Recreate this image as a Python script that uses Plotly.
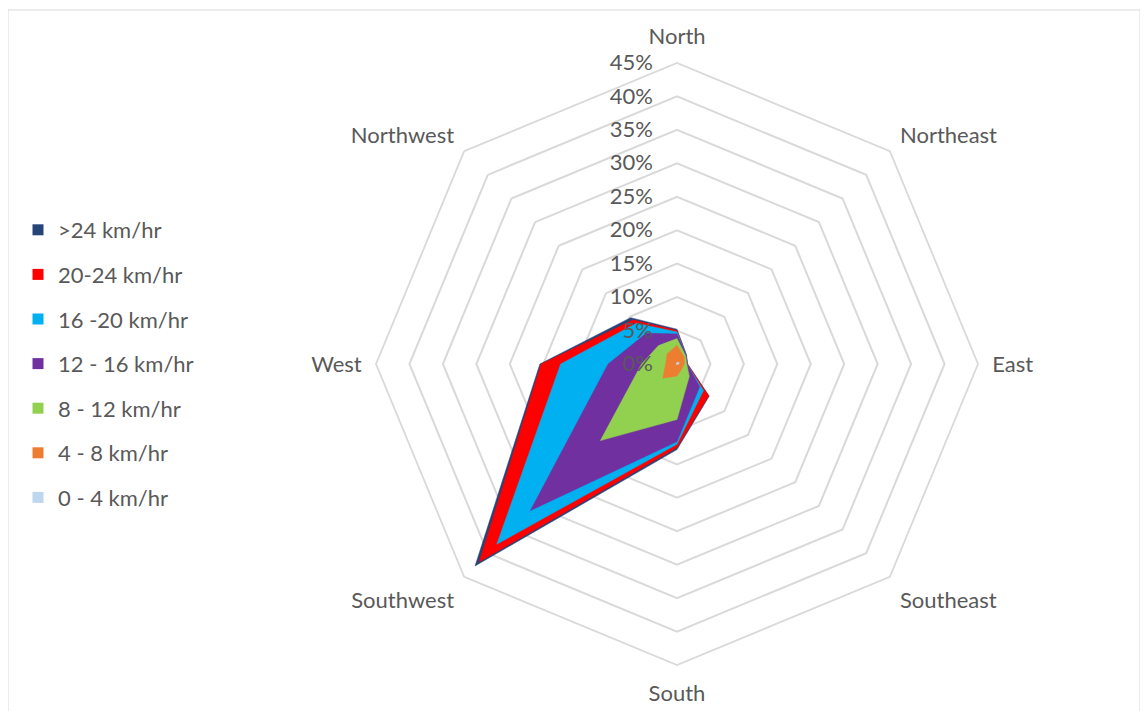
import plotly.graph_objects as go

directions = ["North", "Northeast", "East", "Southeast", "South", "Southwest", "West", "Northwest"]

series_names = [">24 km/hr", "20-24 km/hr", "16 -20 km/hr", "12 - 16 km/hr",
                "8 - 12 km/hr", "4 - 8 km/hr", "0 - 4 km/hr"]

gt24 = [5.2, 2.0, 1.6, 6.8, 12.8, 42.7, 20.5, 9.8]
s20_24 = [5.0, 1.9, 1.55, 6.7, 12.5, 41.8, 20.3, 9.3]
s16_20 = [4.8, 1.9, 1.5, 5.6, 12.0, 38.1, 17.4, 8.6]
s12_16 = [4.5, 1.9, 1.5, 4.8, 11.6, 31.0, 10.3, 6.5]
s8_12 = [3.8, 1.8, 1.45, 2.6, 8.3, 16.2, 5.3, 3.9]
s4_8 = [2.8, 1.5, 1.1, 1.0, 1.8, 3.0, 1.7, 2.1]
s0_4 = [0.2, 0.4, 0.3, 0.1, 0.1, 0.1, 0.1, 0.2]

series_values = [gt24, s20_24, s16_20, s12_16, s8_12, s4_8, s0_4]
colors = ["#264478", "#FF0000", "#00B0F0", "#7030A0", "#92D050", "#ED7D31", "#BDD7EE"]

radial_ticks = [0, 5, 10, 15, 20, 25, 30, 35, 40, 45]
radial_labels = [f"{t}%" for t in radial_ticks]

FONT = "Lato"
TXT = "#595959"
GRID = "#D9D9D9"

# page has an 8px body margin; figure coords = page coords - 8
OFF = 8
W, H = 1148 - OFF, 711 - OFF
CX, CY, R = 677 - OFF, 364 - OFF, 301

fig = go.Figure()

for name, vals, col in zip(series_names, series_values, colors):
    fig.add_trace(go.Scatterpolar(
        r=vals + [vals[0]],
        theta=directions + [directions[0]],
        mode="lines",
        fill="toself",
        fillcolor=col,
        line=dict(color=col, width=0.5),
        name=name,
        showlegend=False,
        hoverinfo="name+r+theta",
    ))

# legend entries (square markers)
for name, col in zip(series_names, colors):
    fig.add_trace(go.Scatterpolar(
        r=[None], theta=[directions[0]],
        mode="markers",
        marker=dict(symbol="square", size=11, color=col),
        name=name,
        legendgroup=name,
        showlegend=True,
    ))

fig.update_layout(
    width=W, height=H,
    paper_bgcolor="white",
    margin=dict(l=0, r=0, t=0, b=0),
    font=dict(family=FONT, size=22, color=TXT),
    polar=dict(
        domain=dict(x=[(CX - R) / W, (CX + R) / W],
                    y=[(H - CY - R) / H, (H - CY + R) / H]),
        bgcolor="rgba(0,0,0,0)",
        gridshape="linear",
        radialaxis=dict(
            range=[0, 45],
            tickvals=radial_ticks,
            ticktext=radial_labels,
            showline=False,
            ticks="outside",
            ticklen=16,
            tickcolor="rgba(0,0,0,0)",
            angle=90,
            tickangle=90,
            side="counterclockwise",
            gridcolor=GRID,
            gridwidth=1.8,
            tickfont=dict(family=FONT, size=22, color=TXT),
        ),
        angularaxis=dict(
            rotation=90,
            direction="clockwise",
            showgrid=False,
            showline=True,
            linecolor=GRID,
            linewidth=1.8,
            ticks="outside",
            ticklen=9,
            tickcolor="rgba(0,0,0,0)",
            tickfont=dict(family=FONT, size=22, color=TXT),
            categoryorder="array",
            categoryarray=directions,
        ),
    ),
    legend=dict(
        x=10 / W, xanchor="left",
        y=1 - 201 / H, yanchor="top",
        tracegroupgap=13,
        itemwidth=30,
        font=dict(family=FONT, size=22, color=TXT),
        bgcolor="rgba(0,0,0,0)",
    ),
    shapes=[dict(type="rect", xref="paper", yref="paper",
                 x0=0, x1=(1140 - OFF) / W, y0=-0.05, y1=1 - (10 - OFF) / H,
                 line=dict(color=GRID, width=1), fillcolor="rgba(0,0,0,0)",
                 layer="below")],
)

fig.write_html("out.html")
